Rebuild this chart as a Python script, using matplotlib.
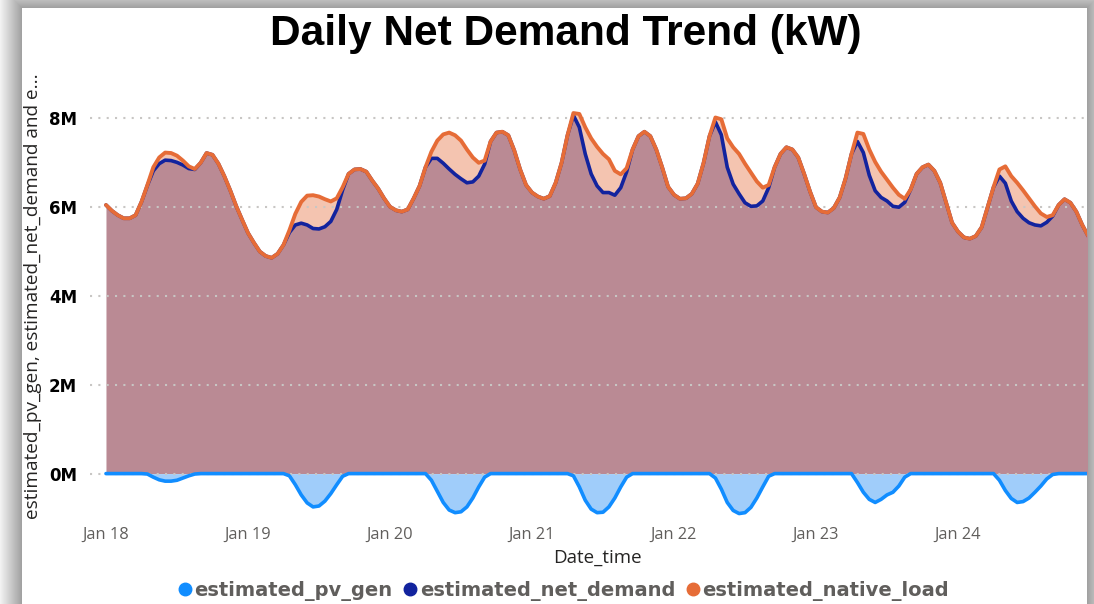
import numpy as np
import pandas as pd
import matplotlib
matplotlib.use('Agg')
import matplotlib.pyplot as plt
import matplotlib.dates as mdates
from matplotlib.lines import Line2D
from matplotlib.ticker import FuncFormatter

# 数据：每小时一个点，单位为百万 kW
timestamps = pd.date_range('2024-01-18 00:00', periods=167, freq='h')

native_load_m = [
    # Jan 18
    6.05, 5.92, 5.82, 5.75, 5.75, 5.82, 6.12, 6.50, 6.90, 7.12, 7.23, 7.22,
    7.16, 7.05, 6.92, 6.86, 7.00, 7.22, 7.18, 6.98, 6.70, 6.38, 6.03, 5.72,
    # Jan 19
    5.42, 5.20, 5.00, 4.90, 4.86, 4.95, 5.15, 5.48, 5.85, 6.12, 6.26, 6.27,
    6.24, 6.18, 6.13, 6.20, 6.45, 6.75, 6.85, 6.86, 6.80, 6.60, 6.42, 6.20,
    # Jan 20
    6.01, 5.93, 5.90, 5.95, 6.20, 6.48, 6.90, 7.25, 7.50, 7.64, 7.68, 7.62,
    7.50, 7.30, 7.12, 7.00, 7.05, 7.48, 7.68, 7.70, 7.62, 7.28, 6.85, 6.50,
    # Jan 21
    6.33, 6.24, 6.19, 6.25, 6.55, 7.00, 7.62, 8.12, 8.10, 7.80, 7.55, 7.36,
    7.20, 7.08, 6.82, 6.74, 6.88, 7.30, 7.60, 7.70, 7.60, 7.30, 6.90, 6.46,
    # Jan 22
    6.28, 6.19, 6.20, 6.30, 6.53, 7.00, 7.60, 8.02, 7.98, 7.55, 7.35, 7.20,
    6.98, 6.78, 6.58, 6.44, 6.50, 6.90, 7.20, 7.35, 7.30, 7.12, 6.75, 6.35,
    # Jan 23
    6.00, 5.90, 5.88, 5.98, 6.22, 6.65, 7.20, 7.68, 7.65, 7.30, 7.02, 6.80,
    6.62, 6.44, 6.28, 6.19, 6.40, 6.75, 6.90, 6.96, 6.82, 6.55, 6.10, 5.65,
    # Jan 24
    5.45, 5.32, 5.29, 5.35, 5.55, 6.00, 6.45, 6.85, 6.92, 6.70, 6.55, 6.38,
    6.20, 6.02, 5.86, 5.78, 5.82, 6.05, 6.18, 6.10, 5.90, 5.60, 5.35,
]

pv_gen_m = [
    # Jan 18
    0, 0, 0, 0, 0, 0, 0, -0.01, -0.08, -0.14, -0.17, -0.17,
    -0.15, -0.10, -0.05, -0.01, 0, 0, 0, 0, 0, 0, 0, 0,
    # Jan 19
    0, 0, 0, 0, 0, 0, 0, -0.05, -0.25, -0.48, -0.66, -0.75,
    -0.73, -0.62, -0.45, -0.25, -0.06, 0, 0, 0, 0, 0, 0, 0,
    # Jan 20
    0, 0, 0, 0, 0, 0, 0, -0.15, -0.40, -0.65, -0.82, -0.88,
    -0.86, -0.75, -0.55, -0.30, -0.08, 0, 0, 0, 0, 0, 0, 0,
    # Jan 21
    0, 0, 0, 0, 0, 0, 0, -0.05, -0.30, -0.60, -0.80, -0.88,
    -0.87, -0.75, -0.55, -0.30, -0.08, 0, 0, 0, 0, 0, 0, 0,
    # Jan 22
    0, 0, 0, 0, 0, 0, 0, -0.10, -0.35, -0.65, -0.83, -0.90,
    -0.88, -0.76, -0.55, -0.30, -0.06, 0, 0, 0, 0, 0, 0, 0,
    # Jan 23
    0, 0, 0, 0, 0, 0, 0, -0.20, -0.42, -0.58, -0.65, -0.58,
    -0.48, -0.42, -0.28, -0.08, 0, 0, 0, 0, 0, 0, 0, 0,
    # Jan 24
    0, 0, 0, 0, 0, 0, 0, -0.15, -0.38, -0.56, -0.65, -0.63,
    -0.55, -0.42, -0.28, -0.12, -0.02, 0, 0, 0, 0, 0, 0,
]

native_load = np.array(native_load_m) * 1e6
pv_gen = np.array(pv_gen_m) * 1e6
net_demand = native_load + pv_gen

series_names = ['estimated_pv_gen', 'estimated_net_demand', 'estimated_native_load']
series_colors = ['#118DFF', '#12239E', '#E66C37']
y_ticks = [0, 2e6, 4e6, 6e6, 8e6]

W, H = 1094, 604
fig = plt.figure(figsize=(W / 100, H / 100), dpi=100, facecolor='white')

# 卡片阴影（左、上、右）
yy, xx = np.mgrid[0:H, 0:W]
d = np.maximum.reduce([22 - xx, 8 - yy, xx - 1086, np.zeros_like(xx)])
shade = np.where(d > 0, 0.62 + 0.33 * np.clip(d / 22, 0, 1), 1.0)
fig.figimage(np.dstack([shade] * 3), xo=0, yo=0, origin='upper', zorder=-10)

ax = fig.add_axes([90 / W, 1 - 518 / H, (1087 - 90) / W, (518 - 74) / H])
ax.patch.set_visible(False)

# 面积填充
ax.fill_between(timestamps, 0, net_demand, color='#BA8A94', lw=0, zorder=1)
ax.fill_between(timestamps, net_demand, native_load, color='#F4C4B0', lw=0, zorder=1)
ax.fill_between(timestamps, pv_gen, 0, color='#A0CDFA', lw=0, zorder=1)

# 折线
for vals, c, lw in zip([pv_gen, net_demand, native_load], series_colors, [2.6, 2.6, 2.8]):
    ax.plot(timestamps, vals, color=c, lw=lw, solid_joinstyle='round', solid_capstyle='round', zorder=3)

start = timestamps[0]
ax.set_xlim(start - pd.Timedelta(hours=2.7), start + pd.Timedelta(hours=165.8))
ax.set_ylim(-1e6, 9e6)

ax.set_yticks(y_ticks)
ax.yaxis.set_major_formatter(FuncFormatter(lambda v, p: f'{v / 1e6:.0f}M'))
ax.yaxis.grid(True, color='#C8C6C4', linestyle=(0, (1, 3)), lw=1.5)
ax.set_axisbelow('line')

ax.xaxis.set_major_locator(mdates.DayLocator())
ax.xaxis.set_major_formatter(mdates.DateFormatter('%b %d'))

for s in ax.spines.values():
    s.set_visible(False)
ax.tick_params(axis='both', length=0)
ax.tick_params(axis='y', pad=9.4)
ax.tick_params(axis='x', pad=6.5)
for lab in ax.get_yticklabels():
    lab.set_fontfamily('DejaVu Sans')
    lab.set_fontweight('bold')
    lab.set_fontsize(12)
    lab.set_color('#000000')
for lab in ax.get_xticklabels():
    lab.set_fontfamily('Open Sans')
    lab.set_fontsize(11.8)
    lab.set_color('#605E5C')

ax.set_xlabel('Date_time', fontfamily='Open Sans', fontsize=13.5, color='#252423')
ax.xaxis.label.set_va('center')
ax.xaxis.set_label_coords(0.509, -0.09)

fig.text(33 / W, 1 - 296 / H, 'estimated_pv_gen, estimated_net_demand and e...',
         rotation=90, ha='center', va='center', fontfamily='Open Sans', fontsize=13.7, color='#252423')

fig.text(566 / W, 1 - 45 / H, 'Daily Net Demand Trend (kW)', ha='center', va='baseline',
         fontfamily='Liberation Sans', fontweight='bold', fontsize=30.5, color='#000000')

handles = [Line2D([], [], marker='o', ls='', color=c, markersize=9) for c in series_colors]
fig.legend(handles, series_names, loc='center', bbox_to_anchor=(564 / W, 1 - 591 / H), ncol=3,
           frameon=False, handlelength=0.6, handletextpad=0.2, columnspacing=0.6,
           borderpad=0, prop={'family': 'DejaVu Sans', 'weight': 'bold', 'size': 14},
           labelcolor='#605E5C')

fig.savefig('out.png', dpi=100)
